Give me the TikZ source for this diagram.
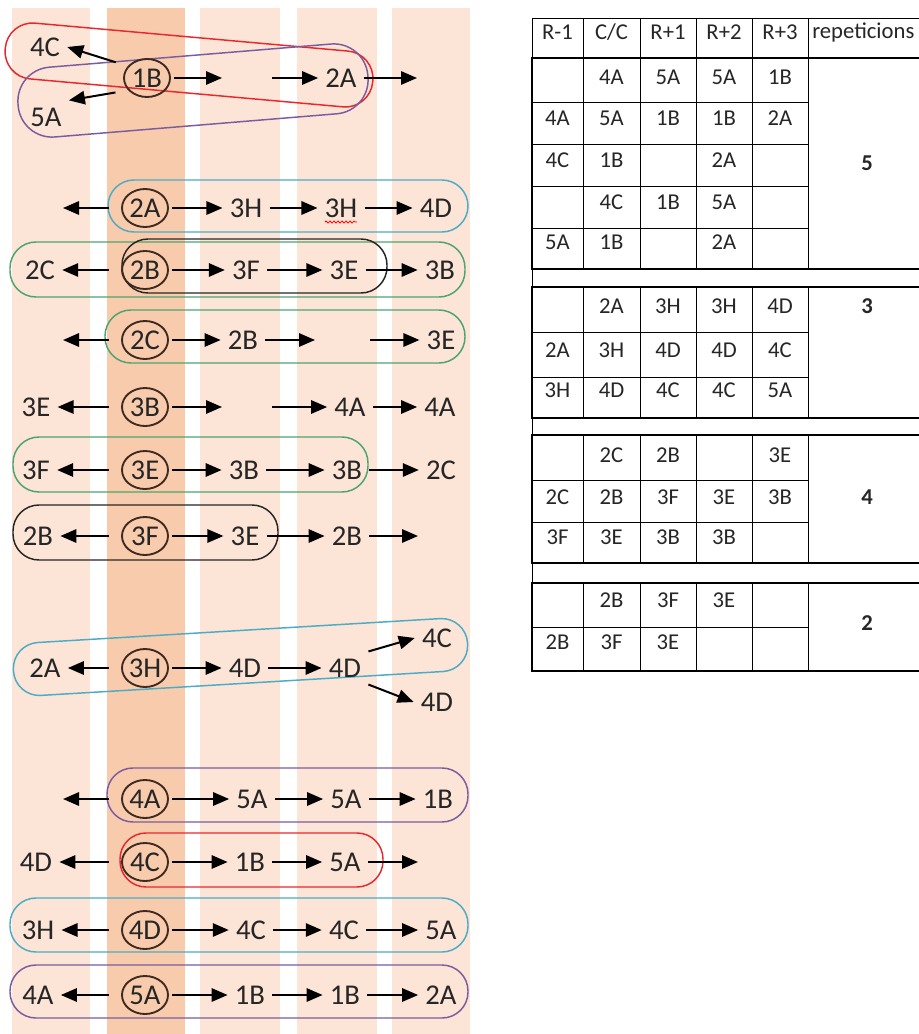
\documentclass[tikz,border=0pt]{standalone}
\usepackage{fontspec}
\setmainfont{Carlito}
\usetikzlibrary{arrows.meta,shapes.geometric,decorations.pathmorphing}
\definecolor{stripeL}{HTML}{FCE4D6}
\definecolor{stripeD}{HTML}{F8CBAD}
\definecolor{hred}{HTML}{E8282E}
\definecolor{hpurple}{HTML}{7B5C9E}
\definecolor{hcyan}{HTML}{4BACC6}
\definecolor{hgreen}{HTML}{4CA56E}
\definecolor{hblack}{HTML}{262626}
\definecolor{circ}{HTML}{3E2A20}
\definecolor{txt}{HTML}{262626}
\begin{document}
\begin{tikzpicture}[x=0.75pt,y=-0.75pt,
  t/.style={inner sep=0pt,outer sep=5.5pt,font=\fontsize{21.5}{24}\selectfont,text=txt},
  cc/.style={ellipse,draw=circ,line width=1.4pt,minimum width=34.5pt,minimum height=28.5pt,inner sep=0pt,outer sep=3pt,font=\fontsize{21.5}{24}\selectfont,text=txt},
  arr/.style={line width=1.5pt,-{Triangle[length=12pt,width=10pt]},draw=black},
  larr/.style={arr,shorten <=7pt},
  hl/.style={line width=1.1pt,rounded corners=19.5pt},
  tc/.style={inner sep=0pt,font=\fontsize{17}{19}\selectfont,text=txt},
  tb/.style={tc,font=\fontsize{17}{19}\selectfont\bfseries},
  thinl/.style={line width=0.7pt},
  thickl/.style={line width=1.8pt}
]
\useasboundingbox (0,0) rectangle (919,1034);
\fill[white] (0,0) rectangle (919,1034);
% stripes
\fill[stripeL] (12,8) rectangle (90,1034);
\fill[stripeD] (107,8) rectangle (185,1034);
\fill[stripeL] (200,8) rectangle (280,1034);
\fill[stripeL] (297,8) rectangle (377,1034);
\fill[stripeL] (392,8) rectangle (470,1034);

% highlight outlines
\begin{scope}[shift={(189,65)},rotate=-5.1]
\draw[hl,hred,rounded corners=20.5pt] (-184.5,-28) -- (184.5,-28) -- (184.5,28) -- (-184.5,28) -- cycle;
\end{scope}
\begin{scope}[shift={(193,90.5)},rotate=4.7]
\draw[hl,hpurple,rounded corners=25.5pt] (-175.5,-35) -- (175.5,-35) -- (175.5,35) -- (-175.5,35) -- cycle;
\end{scope}
\begin{scope}[shift={(240.5,657)},rotate=3.4]
\draw[hl,hcyan,rounded corners=19.5pt] (-227.5,-26.5) -- (227.5,-26.5) -- (227.5,26.5) -- (-227.5,26.5) -- cycle;
\end{scope}
\draw[hl,hcyan] (108,180) rectangle (468,232);
\draw[hl,hgreen] (10,242) rectangle (465,297);
\draw[hl,hblack] (122,239) rectangle (387,293);
\draw[hl,hgreen] (105,310) rectangle (465,363);
\draw[hl,hgreen] (13,437) rectangle (368,492);
\draw[hl,hblack] (13,505) rectangle (278,560);
\draw[hl,hpurple] (107,768) rectangle (468,822);
\draw[hl,hred] (120,833) rectangle (383,887);
\draw[hl,hcyan] (10,898) rectangle (468,952);
\draw[hl,hpurple] (10,965) rectangle (468,1018);

% row 1
\node[cc] (c1) at (147,78) {1B};
\node[t] (r1l) at (45,47) {4C};
\node[t] (r1m) at (46,117) {5A};
\node[t] (r1b) at (341,78) {2A};
\coordinate (r1p) at (222,78);
\coordinate (r1q) at (272,78);
\coordinate (r1r) at (417,78);
\draw[larr] (c1.150) -- (r1l.east);
\draw[larr] (c1.210) -- (r1m.north east);
\draw[arr] (c1) -- (r1p);
\draw[arr] (r1q) -- (r1b);
\draw[arr] (r1b) -- (r1r);
% row 2
\node[cc] (c2) at (145,208) {2A};
\coordinate (r2l) at (63,208);
\node[t] (r2a) at (246,208) {3H};
\node[t] (r2b) at (341,208) {3H};
\node[t] (r2c) at (436,208) {4D};
\draw[larr] (c2) -- (r2l);
\draw[arr] (c2) -- (r2a);
\draw[arr] (r2a) -- (r2b);
\draw[arr] (r2b) -- (r2c);
\draw[red,line width=0.6pt,decorate,decoration={snake,amplitude=0.8pt,segment length=3pt}]
  ([xshift=5.5pt,yshift=2pt]r2b.south west) -- ([xshift=-5.5pt,yshift=2pt]r2b.south east);
% row 3
\node[cc] (c3) at (145,270) {2B};
\node[t] (r3l) at (40,270) {2C};
\node[t] (r3a) at (246,270) {3F};
\node[t] (r3b) at (344,270) {3E};
\node[t] (r3c) at (440,270) {3B};
\draw[larr] (c3) -- (r3l);
\draw[arr] (c3) -- (r3a);
\draw[arr] (r3a) -- (r3b);
\draw[arr] (r3b) -- (r3c);
% row 4
\node[cc] (c4) at (145,340) {2C};
\coordinate (r4l) at (63,340);
\node[t] (r4a) at (243,340) {2B};
\coordinate (r4p) at (315,340);
\coordinate (r4q) at (370,340);
\node[t] (r4c) at (441,340) {3E};
\draw[larr] (c4) -- (r4l);
\draw[arr] (c4) -- (r4a);
\draw[arr] (r4a) -- (r4p);
\draw[arr] (r4q) -- (r4c);
% row 5
\node[cc] (c5) at (145,407) {3B};
\node[t] (r5l) at (36,407) {3E};
\coordinate (r5p) at (222,407);
\coordinate (r5q) at (272,407);
\node[t] (r5b) at (350,407) {4A};
\node[t] (r5c) at (440,407) {4A};
\draw[larr] (c5) -- (r5l);
\draw[arr] (c5) -- (r5p);
\draw[arr] (r5q) -- (r5b);
\draw[arr] (r5b) -- (r5c);
% row 6
\node[cc] (c6) at (145,470) {3E};
\node[t] (r6l) at (36,470) {3F};
\node[t] (r6a) at (244,470) {3B};
\node[t] (r6b) at (347,470) {3B};
\node[t] (r6c) at (441,470) {2C};
\draw[larr] (c6) -- (r6l);
\draw[arr] (c6) -- (r6a);
\draw[arr] (r6a) -- (r6b);
\draw[arr] (r6b) -- (r6c);
% row 7
\node[cc] (c7) at (145,536) {3F};
\node[t] (r7l) at (38,536) {2B};
\node[t] (r7a) at (245,536) {3E};
\node[t] (r7b) at (347,536) {2B};
\coordinate (r7r) at (418,536);
\draw[larr] (c7) -- (r7l);
\draw[arr] (c7) -- (r7a);
\draw[arr] (r7a) -- (r7b);
\draw[arr] (r7b) -- (r7r);
% row 8
\node[cc] (c8) at (145,668) {3H};
\node[t] (r8l) at (45,668) {2A};
\node[t] (r8a) at (245,668) {4D};
\node[t] (r8b) at (345,668) {4D};
\node[t] (r8c) at (437,638) {4C};
\node[t] (r8d) at (437,702) {4D};
\draw[larr] (c8) -- (r8l);
\draw[arr] (c8) -- (r8a);
\draw[arr] (r8a) -- (r8b);
\draw[arr] (r8b.north east) -- (r8c.west);
\draw[arr] (r8b.south east) -- (r8d.west);
% row 9
\node[cc] (c9) at (145,799) {4A};
\coordinate (r9l) at (63,799);
\node[t] (r9a) at (252,799) {5A};
\node[t] (r9b) at (346,799) {5A};
\node[t] (r9c) at (438,799) {1B};
\draw[larr] (c9) -- (r9l);
\draw[arr] (c9) -- (r9a);
\draw[arr] (r9a) -- (r9b);
\draw[arr] (r9b) -- (r9c);
% row 10
\node[cc] (c10) at (145,862) {4C};
\node[t] (r10l) at (36,862) {4D};
\node[t] (r10a) at (250,862) {1B};
\node[t] (r10b) at (345,862) {5A};
\coordinate (r10r) at (418,862);
\draw[larr] (c10) -- (r10l);
\draw[arr] (c10) -- (r10a);
\draw[arr] (r10a) -- (r10b);
\draw[arr] (r10b) -- (r10r);
% row 11
\node[cc] (c11) at (145,930) {4D};
\node[t] (r11l) at (38,930) {3H};
\node[t] (r11a) at (251,930) {4C};
\node[t] (r11b) at (344,930) {4C};
\node[t] (r11c) at (441,930) {5A};
\draw[larr] (c11) -- (r11l);
\draw[arr] (c11) -- (r11a);
\draw[arr] (r11a) -- (r11b);
\draw[arr] (r11b) -- (r11c);
% row 12
\node[cc] (c12) at (145,995) {5A};
\node[t] (r12l) at (38,995) {4A};
\node[t] (r12a) at (250,995) {1B};
\node[t] (r12b) at (345,995) {1B};
\node[t] (r12c) at (441,995) {2A};
\draw[larr] (c12) -- (r12l);
\draw[arr] (c12) -- (r12a);
\draw[arr] (r12a) -- (r12b);
\draw[arr] (r12b) -- (r12c);

% ---------- table ----------
\begin{scope}
\clip (0,0) rectangle (919,1034);
% header
\draw[thinl] (532,18) -- (930,18);
\foreach \x in {532,583,640,696,752,808} \draw[thinl] (\x,18) -- (\x,58);
\draw[thinl] (532,58) -- (532,671);
% groups: top, bottom, row lines
\foreach \tp/\bt/\rows in {58/269/{102,144,186,228}, 287/418/{332,377}, 435/563/{480,522}, 583/671/{627}} {
  \foreach \x in {583,640,696,752,808} \draw[thinl] (\x,\tp) -- (\x,\bt);
  \foreach \y in \rows \draw[thinl] (532,\y) -- (808,\y);
  \draw[thickl] (930,\tp) -- (532,\tp) -- (532,\bt) -- (930,\bt);
}
\end{scope}
% header text
\node[tc] (h1) at (557.5,32) {R-1};
\node[tc] (h2) at (611.5,32) {C/C};
\node[tc] (h3) at (668,32) {R+1};
\node[tc] (h4) at (724,32) {R+2};
\node[tc] (h5) at (780,32) {R+3};
\node[tc,anchor=west] (h6) at (812,32) {repeticions};
% group 1
\node[tc] (a12) at (611.5,77) {4A}; \node[tc] (a13) at (668,77) {5A}; \node[tc] (a14) at (724,77) {5A}; \node[tc] (a15) at (780,77) {1B};
\node[tc] (a21) at (557.5,118) {4A}; \node[tc] (a22) at (611.5,118) {5A}; \node[tc] (a23) at (668,118) {1B}; \node[tc] (a24) at (724,118) {1B}; \node[tc] (a25) at (780,118) {2A};
\node[tc] (a31) at (557.5,160) {4C}; \node[tc] (a32) at (611.5,160) {1B}; \node[tc] (a34) at (724,160) {2A};
\node[tc] (a42) at (611.5,202) {4C}; \node[tc] (a43) at (668,202) {1B}; \node[tc] (a44) at (724,202) {5A};
\node[tc] (a51) at (557.5,242) {5A}; \node[tc] (a52) at (611.5,242) {1B}; \node[tc] (a54) at (724,242) {2A};
\node[tb] (ar) at (867,163) {5};
% group 2
\node[tc] (b12) at (611.5,306) {2A}; \node[tc] (b13) at (668,306) {3H}; \node[tc] (b14) at (724,306) {3H}; \node[tc] (b15) at (780,306) {4D};
\node[tc] (b21) at (557.5,350) {2A}; \node[tc] (b22) at (611.5,350) {3H}; \node[tc] (b23) at (668,350) {4D}; \node[tc] (b24) at (724,350) {4D}; \node[tc] (b25) at (780,350) {4C};
\node[tc] (b31) at (557.5,390) {3H}; \node[tc] (b32) at (611.5,390) {4D}; \node[tc] (b33) at (668,390) {4C}; \node[tc] (b34) at (724,390) {4C}; \node[tc] (b35) at (780,390) {5A};
\node[tb] (br) at (867,306) {3};
% group 3
\node[tc] (d12) at (611.5,455) {2C}; \node[tc] (d13) at (668,455) {2B}; \node[tc] (d15) at (780,455) {3E};
\node[tc] (d21) at (557.5,497) {2C}; \node[tc] (d22) at (611.5,497) {2B}; \node[tc] (d23) at (668,497) {3F}; \node[tc] (d24) at (724,497) {3E}; \node[tc] (d25) at (780,497) {3B};
\node[tc] (d31) at (557.5,537) {3F}; \node[tc] (d32) at (611.5,537) {3E}; \node[tc] (d33) at (668,537) {3B}; \node[tc] (d34) at (724,537) {3B};
\node[tb] (dr) at (867,497) {4};
% group 4
\node[tc] (e12) at (611.5,600) {2B}; \node[tc] (e13) at (668,600) {3F}; \node[tc] (e14) at (724,600) {3E};
\node[tc] (e21) at (557.5,642) {2B}; \node[tc] (e22) at (611.5,642) {3F}; \node[tc] (e23) at (668,642) {3E};
\node[tb] (er) at (867,623) {2};
\end{tikzpicture}
\end{document}
